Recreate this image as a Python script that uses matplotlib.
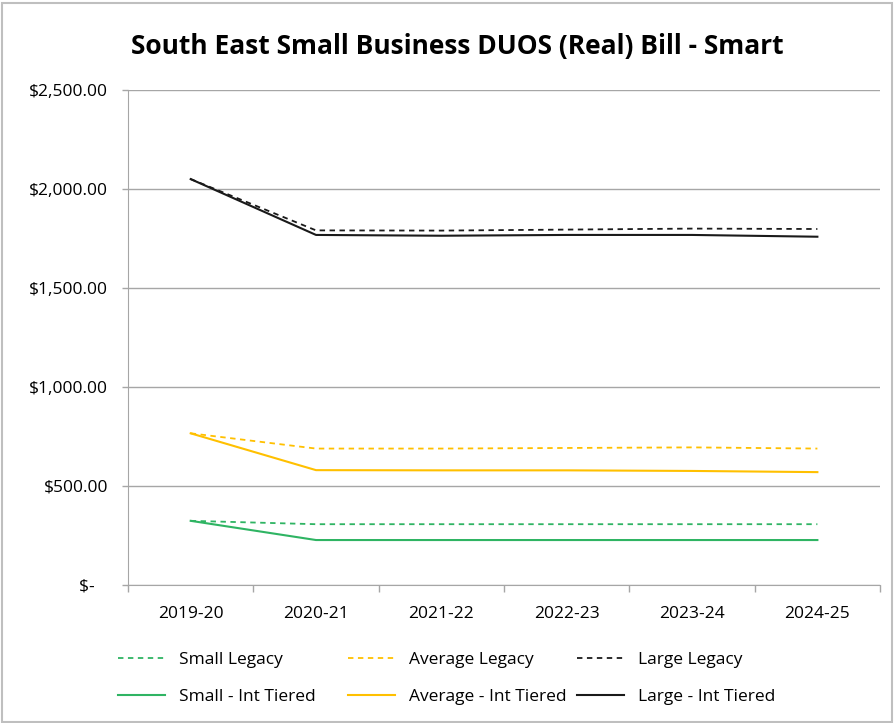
import matplotlib.pyplot as plt
from matplotlib.ticker import FuncFormatter, FixedLocator
from matplotlib.patches import Rectangle

plt.rcParams['font.family'] = ['Open Sans', 'DejaVu Sans']

years = ['2019-20', '2020-21', '2021-22', '2022-23', '2023-24', '2024-25']
small_legacy = [324, 307, 307, 307, 307, 307]
average_legacy = [766, 689, 689, 692, 695, 689]
large_legacy = [2050, 1791, 1790, 1795, 1800, 1798]
small_tiered = [324, 227, 227, 227, 227, 227]
average_tiered = [766, 580, 579, 579, 576, 570]
large_tiered = [2050, 1768, 1764, 1768, 1768, 1759]

green = '#2fb463'
yellow = '#ffc000'
black = '#1a1a1a'
grey = '#a6a6a6'

fig = plt.figure(figsize=(8.94, 7.23), dpi=100)
ax = fig.add_axes([0.1432, 0.1909, 0.8412, 0.6846])

x = range(len(years))
dash = (0, (3, 2.5))
l1, = ax.plot(x, small_legacy, color=green, ls=dash, lw=1.3, label='Small Legacy')
l2, = ax.plot(x, small_tiered, color=green, lw=1.5, label='Small - Int Tiered')
l3, = ax.plot(x, average_legacy, color=yellow, ls=dash, lw=1.3, label='Average Legacy')
l4, = ax.plot(x, average_tiered, color=yellow, lw=1.5, label='Average - Int Tiered')
l5, = ax.plot(x, large_legacy, color=black, ls=dash, lw=1.3, label='Large Legacy')
l6, = ax.plot(x, large_tiered, color=black, lw=1.5, label='Large - Int Tiered')

ax.set_xlim(-0.5, len(years) - 0.5)
ax.set_ylim(0, 2500)
ax.set_yticks(range(0, 2501, 500))

def money(v, pos):
    if v == 0:
        return '$-   '
    return '${:,.2f}'.format(v)

ax.yaxis.set_major_formatter(FuncFormatter(money))
ax.yaxis.grid(True, color=grey, lw=1)
ax.set_axisbelow(True)

ax.set_xticks(list(x))
ax.set_xticklabels(years)
ax.xaxis.set_minor_locator(FixedLocator([i - 0.5 for i in range(len(years) + 1)]))
ax.tick_params(axis='x', which='major', length=0, pad=15, labelsize=12.5)
ax.tick_params(axis='x', which='minor', length=5, color=grey, width=1)
ax.tick_params(axis='y', length=4.5, color=grey, width=1, labelsize=12.5, pad=10)

for s in ['top', 'right']:
    ax.spines[s].set_visible(False)
ax.spines['left'].set_color(grey)
ax.spines['bottom'].set_color(grey)

fig.text(0.511, 0.935, 'South East Small Business DUOS (Real) Bill - Smart',
         ha='center', va='center', fontsize=19, fontweight='bold')

# three one-column legends, Excel-style fixed column pitch
for handles, xpos in [([l1, l2], 118), ([l3, l4], 348), ([l5, l6], 577)]:
    fig.legend(handles=handles, loc='upper left', bbox_to_anchor=(xpos / 894, 0.0982),
               frameon=False, fontsize=12.5, handlelength=2.7, handletextpad=0.8,
               labelspacing=1.2, borderpad=0, borderaxespad=0)

fig.patches.append(Rectangle((0.002, 0.002), 0.996, 0.994, transform=fig.transFigure,
                             fill=False, edgecolor='#bfbfbf', lw=1.5))

fig.savefig('out.png', dpi=100)
